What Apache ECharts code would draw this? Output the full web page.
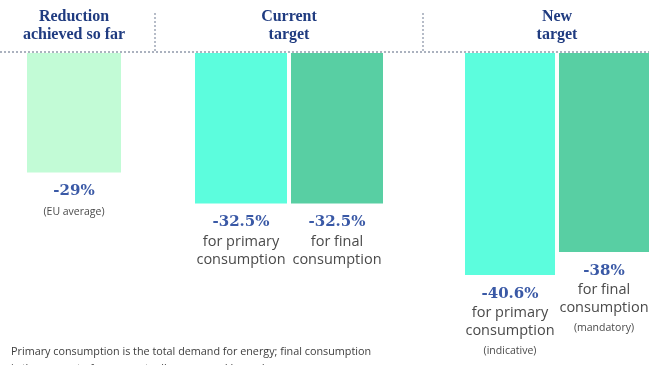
<!DOCTYPE html>
<html>
<head>
<meta charset="utf-8">
<script src="https://cdn.jsdelivr.net/npm/echarts@6/dist/echarts.min.js"></script>
<style>
  html, body { margin: 0; padding: 0; background: #ffffff; }
  #chart { width: 649px; height: 365px; }
</style>
</head>
<body>
<div id="chart"></div>
<script>
// Energy consumption reduction: achieved so far vs. current and new targets
const groupTitles = ['Reduction\nachieved so far', 'Current\ntarget', 'New\ntarget'];

const achievedCategories = [''];
const achievedValues = [-29];
const achievedNotes = ['(EU average)'];

const currentCategories = ['for primary\nconsumption', 'for final\nconsumption'];
const currentValues = [-32.5, -32.5];
const currentNotes = ['', ''];

const newCategories = ['for primary\nconsumption', 'for final\nconsumption'];
const newValues = [-40.6, -38];
const newNotes = ['(indicative)', '(mandatory)'];

const footnoteLines = [
  'Primary consumption is the total demand for energy; final consumption',
  'is the amount of energy actually consumed by end users.'
];

const COLOR_ACHIEVED = '#c2fbd6';
const COLOR_PRIMARY = '#5cfddd';
const COLOR_FINAL = '#58cfa3';
const TITLE_COLOR = '#1f3b80';
const VALUE_COLOR = '#3a59a6';
const TEXT_COLOR = '#4a4a4a';
const DOT_COLOR = '#9099ab';

// Each group is its own grid with a single category; the bars of a group sit side by side,
// 4px apart. The last group runs to the right edge of the canvas.
const BAR_SPACING = 4;
const groups = [
  { title: groupTitles[0], cats: achievedCategories, vals: achievedValues, notes: achievedNotes,
    colors: [COLOR_ACHIEVED], box: { left: 26, width: 96 }, barWidth: 94 },
  { title: groupTitles[1], cats: currentCategories, vals: currentValues, notes: currentNotes,
    colors: [COLOR_PRIMARY, COLOR_FINAL], box: { left: 193, width: 192 }, barWidth: 92 },
  { title: groupTitles[2], cats: newCategories, vals: newValues, notes: newNotes,
    colors: [COLOR_PRIMARY, COLOR_FINAL], box: { left: 465, right: 0 }, barWidth: 90 }
];

const GRID_TOP = 53;
const GRID_HEIGHT = 261;

const richStyles = {
  v: { fontFamily: 'DejaVu Serif', fontWeight: 'bold', fontSize: 15, color: VALUE_COLOR, lineHeight: 20 },
  d: { fontFamily: 'Open Sans', fontSize: 14.5, color: TEXT_COLOR, lineHeight: 18 },
  n: { fontFamily: 'Open Sans', fontSize: 10.5, color: TEXT_COLOR, lineHeight: 22 }
};

function makeLabel(desc, note) {
  return {
    show: true,
    position: 'bottom',
    distance: 9,
    align: 'center',
    rich: richStyles,
    formatter: function (p) {
      let s = '{v|' + p.value + '%}';
      if (desc) {
        desc.split('\n').forEach(function (line) { s += '\n{d|' + line + '}'; });
      }
      if (note) s += '\n{n|' + note + '}';
      return s;
    }
  };
}

const series = [];
groups.forEach(function (g, i) {
  g.vals.forEach(function (v, j) {
    series.push({
      type: 'bar',
      name: g.cats[j] || g.title,
      xAxisIndex: i,
      yAxisIndex: i,
      barWidth: g.barWidth,
      barGap: (BAR_SPACING / g.barWidth * 100) + '%',
      clip: true,
      itemStyle: { color: g.colors[j] },
      data: [v],
      label: makeLabel(g.cats[j], g.notes[j])
    });
  });
});

const option = {
  animation: false,
  backgroundColor: '#ffffff',
  grid: groups.map(function (g) {
    return Object.assign({ top: GRID_TOP, height: GRID_HEIGHT, containLabel: false }, g.box);
  }),
  xAxis: groups.map(function (g, i) {
    return {
      type: 'category',
      gridIndex: i,
      position: 'top',
      data: [g.title],
      name: g.title,
      nameLocation: 'middle',
      nameGap: 9,
      nameTextStyle: {
        fontFamily: 'Liberation Serif', fontWeight: 'bold', fontSize: 16,
        color: TITLE_COLOR, lineHeight: 18, align: 'center'
      },
      axisLine: { show: false },
      axisTick: { show: false },
      axisLabel: { show: false },
      splitLine: { show: false }
    };
  }),
  yAxis: groups.map(function (g, i) {
    return { type: 'value', gridIndex: i, min: -45, max: -15.5, show: false };
  }),
  series: series,
  graphic: [
    { type: 'line', shape: { x1: 0, y1: 52, x2: 649, y2: 52 },
      style: { stroke: DOT_COLOR, lineWidth: 1.3, lineDash: [2, 2] }, z: 10 },
    { type: 'line', shape: { x1: 155, y1: 13, x2: 155, y2: 52 },
      style: { stroke: DOT_COLOR, lineWidth: 1.3, lineDash: [2, 2] }, z: 10 },
    { type: 'line', shape: { x1: 423, y1: 13, x2: 423, y2: 52 },
      style: { stroke: DOT_COLOR, lineWidth: 1.3, lineDash: [2, 2] }, z: 10 },
    { type: 'text', left: 11, top: 343,
      style: { text: footnoteLines.join('\n'), fontFamily: 'Open Sans', fontSize: 10.8,
               lineHeight: 17, fill: '#3d3d3d' } }
  ]
};

const chart = echarts.init(document.getElementById('chart'), null, { renderer: 'canvas' });
chart.setOption(option);
</script>
</body>
</html>
